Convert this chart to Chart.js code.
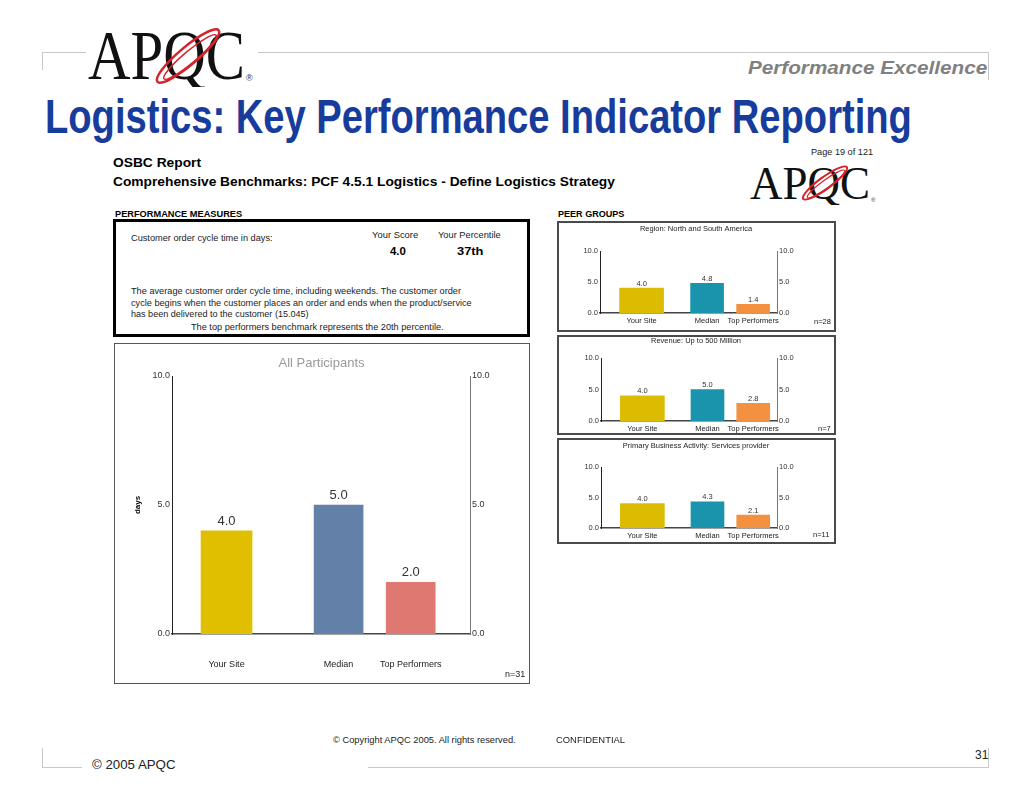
<!DOCTYPE html>
<html>
<head>
<meta charset="utf-8">
<script src="https://cdn.jsdelivr.net/npm/chart.js@4.4.1/dist/chart.umd.min.js"></script>
<style>
  body { margin: 0; width: 1024px; height: 791px; background: #fff; position: relative; overflow: hidden;
         font-family: "Liberation Sans", Arial, sans-serif; color: #111; }
  .t { position: absolute; white-space: nowrap; line-height: 1; transform-origin: 0 50%; }
  .ln { position: absolute; background: #c8c8c8; }
  .box { position: absolute; box-sizing: border-box; }
  canvas { position: absolute; }
  svg { position: absolute; }
</style>
</head>
<body>

<!-- slide frame -->
<div class="ln" style="left:42px;top:52px;width:44px;height:1px"></div>
<div class="ln" style="left:258px;top:52px;width:731px;height:1px"></div>
<div class="ln" style="left:42px;top:52px;width:1px;height:18px"></div>
<div class="ln" style="left:988px;top:52px;width:1px;height:28px"></div>
<div class="ln" style="left:42px;top:767px;width:40px;height:1px"></div>
<div class="ln" style="left:368px;top:767px;width:621px;height:1px"></div>
<div class="ln" style="left:42px;top:748px;width:1px;height:20px"></div>
<div class="ln" style="left:988px;top:748px;width:1px;height:20px"></div>

<!-- APQC logo (slide) -->
<svg style="left:80px;top:25px" width="185" height="62">
  <text x="8" y="54" font-family="Liberation Serif, serif" font-size="70" textLength="157" lengthAdjust="spacingAndGlyphs" fill="#111">APQC</text>
  <text x="166" y="56" font-family="Liberation Sans" font-size="9" fill="#333">®</text>
  <ellipse cx="108" cy="31" rx="40" ry="9" transform="rotate(-40 108 31)" stroke="#d6222a" stroke-width="2.5" fill="none"/>
  <ellipse cx="110" cy="32" rx="34" ry="6" transform="rotate(-40 110 32)" stroke="#d6222a" stroke-width="1.5" fill="none"/>
</svg>

<div class="t" style="left:748px;top:68px;font-size:18px;font-weight:bold;font-style:italic;color:#808080" data-w="239">Performance Excellence</div>
<div class="t" style="left:45px;top:117px;font-size:48px;font-weight:bold;color:#173c9c" data-w="867">Logistics: Key Performance Indicator Reporting</div>

<!-- report header -->
<div class="t" style="left:113px;top:162px;font-size:13px;font-weight:bold;color:#000" data-w="88">OSBC Report</div>
<div class="t" style="left:113px;top:181px;font-size:13px;font-weight:bold;color:#000" data-w="502">Comprehensive Benchmarks: PCF 4.5.1 Logistics - Define Logistics Strategy</div>
<div class="t" style="left:811px;top:152px;font-size:9px;color:#222" data-w="62">Page 19 of 121</div>

<svg style="left:745px;top:160px" width="135" height="45">
  <text x="5" y="39" font-family="Liberation Serif, serif" font-size="47" textLength="120" lengthAdjust="spacingAndGlyphs" fill="#111">APQC</text>
  <text x="126" y="42" font-family="Liberation Sans" font-size="6" fill="#333">®</text>
  <ellipse cx="80" cy="23" rx="27" ry="6" transform="rotate(-36 80 23)" stroke="#d6222a" stroke-width="2" fill="none"/>
  <ellipse cx="81" cy="24" rx="23" ry="4" transform="rotate(-36 81 24)" stroke="#d6222a" stroke-width="1.2" fill="none"/>
</svg>

<div class="t" style="left:115px;top:214px;font-size:8.5px;font-weight:bold;color:#000" data-w="127">PERFORMANCE MEASURES</div>
<div class="t" style="left:558px;top:214px;font-size:8.5px;font-weight:bold;color:#000" data-w="66">PEER GROUPS</div>

<!-- performance measures box -->
<div class="box" style="left:113px;top:219px;width:417px;height:118px;border:3px solid #000"></div>
<div class="t" style="left:131px;top:238px;font-size:9px;color:#222" data-w="142">Customer order cycle time in days:</div>
<div class="t" style="left:372px;top:235px;font-size:9px;color:#222" data-w="46">Your Score</div>
<div class="t" style="left:438px;top:235px;font-size:9px;color:#222" data-w="63">Your Percentile</div>
<div class="t" style="left:390px;top:252px;font-size:10px;font-weight:bold;color:#000" data-w="16">4.0</div>
<div class="t" style="left:457px;top:252px;font-size:10px;font-weight:bold;color:#000" data-w="27">37th</div>
<div class="t" style="left:131px;top:291px;font-size:9px;color:#222" data-w="330">The average customer order cycle time, including weekends. The customer order</div>
<div class="t" style="left:131px;top:302.5px;font-size:9px;color:#222" data-w="341">cycle begins when the customer places an order and ends when the product/service</div>
<div class="t" style="left:131px;top:314px;font-size:9px;color:#222" data-w="178">has been delivered to the customer (15.045)</div>
<div class="t" style="left:191px;top:326.5px;font-size:9px;color:#222" data-w="253">The top performers benchmark represents the 20th percentile.</div>

<!-- main chart -->
<div class="box" style="left:114px;top:343px;width:416px;height:341px;border:1px solid #555"></div>
<canvas id="mainChart"></canvas>
<div class="t" style="left:505px;top:674px;font-size:9px;color:#222">n=31</div>

<!-- peer group charts -->
<div class="box" style="left:557px;top:221px;width:279px;height:111px;border:2px solid #4a4a4a"></div>
<canvas id="peer1"></canvas>
<div class="t" style="left:814px;top:322px;font-size:7.5px;color:#222">n=28</div>

<div class="box" style="left:557px;top:335px;width:279px;height:100px;border:2px solid #4a4a4a"></div>
<canvas id="peer2"></canvas>
<div class="t" style="left:818px;top:429px;font-size:7.5px;color:#222">n=7</div>

<div class="box" style="left:557px;top:438px;width:279px;height:106px;border:2px solid #4a4a4a"></div>
<canvas id="peer3"></canvas>
<div class="t" style="left:813px;top:535px;font-size:7.5px;color:#222">n=11</div>

<!-- footer -->
<div class="t" style="left:333px;top:740px;font-size:9px;color:#222" data-w="183">© Copyright APQC 2005. All rights reserved.</div>
<div class="t" style="left:556px;top:740px;font-size:9px;color:#222" data-w="69">CONFIDENTIAL</div>
<div class="t" style="left:92px;top:765px;font-size:12px;color:#222" data-w="84">© 2005 APQC</div>
<div class="t" style="left:975px;top:755px;font-size:12px;color:#222">31</div>

<script>
// --- Data ---
const categories = ['Your Site', 'Median', 'Top Performers'];
const yTicks = [0, 5, 10];
const allParticipants = [4.0, 5.0, 2.0];
const regionAmericas = [4.0, 4.8, 1.4];
const revenueUpTo500M = [4.0, 5.0, 2.8];
const servicesProvider = [4.0, 4.3, 2.1];
const peerTitles = ['Region: North and South America', 'Revenue: Up to 500 Million', 'Primary Business Activity: Services provider'];

const FONT = '"Liberation Sans", Arial, sans-serif';

// --- Fit text widths ---
document.querySelectorAll('.t').forEach(el => {
    let tf = 'translateY(-50%)';
    const w = parseFloat(el.dataset.w);
    if (w) tf += ' scaleX(' + (w / el.offsetWidth) + ')';
    el.style.transform = tf;
});

// --- Value labels above bars ---
const valueLabels = {
    id: 'valueLabels',
    afterDatasetsDraw(chart, args, opts) {
        const ctx = chart.ctx;
        ctx.save();
        ctx.font = opts.size + 'px ' + FONT;
        ctx.fillStyle = opts.color;
        ctx.textAlign = 'center';
        ctx.textBaseline = 'bottom';
        chart.data.datasets.forEach((ds, d) => {
            chart.getDatasetMeta(d).data.forEach((bar, i) => {
                ctx.fillText(ds.data[i].y.toFixed(1), bar.x, bar.y - opts.gap);
            });
        });
        ctx.restore();
    }
};

function drawChart(id, cfg) {
    const c = document.getElementById(id);
    const L = cfg.canvas;   // [left, top, right, bottom]
    const A = cfg.area;     // plot area [left, top, right, bottom]
    c.style.left = L[0] + 'px';
    c.style.top = L[1] + 'px';
    c.width = L[2] - L[0];
    c.height = L[3] - L[1];

    const titleLH = cfg.titleSize * 1.2;
    const padTop = cfg.titleY - L[1] - titleLH / 2;
    const padBottom = A[1] - L[1] - padTop - titleLH;

    const yAxis = (pos, borderColor, width) => ({
        position: pos, min: 0, max: 10,
        afterBuildTicks: s => { s.ticks = yTicks.map(v => ({ value: v })); },
        afterFit: s => { s.width = width; },
        grid: { display: false, drawTicks: false },
        border: { color: borderColor, width: 1 },
        ticks: { padding: 2, color: '#333', font: { size: cfg.tickSize, family: FONT }, callback: v => v.toFixed(1) }
    });

    const yLeft = yAxis('left', '#222', A[0] - L[0]);
    if (cfg.yTitle) {
        yLeft.title = { display: true, text: cfg.yTitle, color: '#000',
            font: { size: 8, weight: 'bold', family: FONT }, padding: { top: 15, bottom: 0 } };
    }

    // "Your Site" bar and the two benchmark bars are drawn as two datasets so they can differ in width
    const points = cfg.values.map((v, i) => ({ x: cfg.slots[i], y: v }));
    new Chart(c, {
        type: 'bar',
        data: {
            datasets: [
                { data: points.slice(0, 1), backgroundColor: cfg.colors.slice(0, 1), barThickness: cfg.barWidths[0] },
                { data: points.slice(1), backgroundColor: cfg.colors.slice(1), barThickness: cfg.barWidths[1] }
            ]
        },
        options: {
            responsive: false,
            animation: false,
            events: [],
            layout: { padding: 0 },
            datasets: { bar: { grouped: false, yAxisID: 'y' } },
            plugins: {
                legend: { display: false },
                tooltip: { enabled: false },
                title: {
                    display: true, text: cfg.title, color: cfg.titleColor,
                    font: { size: cfg.titleSize, weight: 'normal', family: FONT },
                    padding: { top: padTop, bottom: padBottom }
                },
                valueLabels: { size: cfg.valueSize, color: '#333', gap: cfg.valueGap }
            },
            scales: {
                x: {
                    type: 'linear', min: 0, max: 1, offset: false,
                    afterBuildTicks: s => { s.ticks = cfg.slots.map(v => ({ value: v })); },
                    afterFit: s => { s.height = L[3] - A[3]; },
                    grid: { display: false, drawTicks: false },
                    border: { color: '#444', width: cfg.baseWidth },
                    ticks: {
                        autoSkip: false, maxRotation: 0, padding: cfg.catPad, color: '#222',
                        font: { size: cfg.catSize, family: FONT },
                        callback: (v, i) => categories[i]
                    }
                },
                y: yLeft,
                y2: yAxis('right', '#777', L[2] - A[2])
            }
        },
        plugins: [valueLabels]
    });
}

// --- Main chart ---
drawChart('mainChart', {
    canvas: [118, 346, 525, 680],
    area: [172, 376, 470, 634],
    title: 'All Participants', titleColor: '#9a9a9a', titleSize: 13, titleY: 363,
    values: allParticipants,
    slots: [0.183, 0.559, 0.801],
    colors: ['#dfbf00', '#6380a8', '#e07872'],
    barWidths: [51, 49], baseWidth: 1.5,
    tickSize: 9, catSize: 9, catPad: 25,
    valueSize: 13, valueGap: 3,
    yTitle: 'days'
});

// --- Peer group charts ---
const peerColors = ['#dcbc00', '#1a93ad', '#f39140'];
const peerSlots = [0.235, 0.605, 0.865];
const peerLayouts = [
    { canvas: [558, 223, 834, 330], area: [600, 251, 777, 313], titleY: 228.5 },
    { canvas: [558, 336, 834, 433], area: [601, 358, 777, 421], titleY: 340.5 },
    { canvas: [558, 440, 834, 542], area: [601, 467, 777, 528], titleY: 446 }
];
[regionAmericas, revenueUpTo500M, servicesProvider].forEach((vals, k) => {
    drawChart('peer' + (k + 1), Object.assign({
        title: peerTitles[k], titleColor: '#222', titleSize: 7.5,
        values: vals, slots: peerSlots, colors: peerColors,
        barWidths: [44, 33], baseWidth: 1.5,
        tickSize: 7.5, catSize: 7.5, catPad: 3,
        valueSize: 7.5, valueGap: 1
    }, peerLayouts[k]));
});
</script>
</body>
</html>
